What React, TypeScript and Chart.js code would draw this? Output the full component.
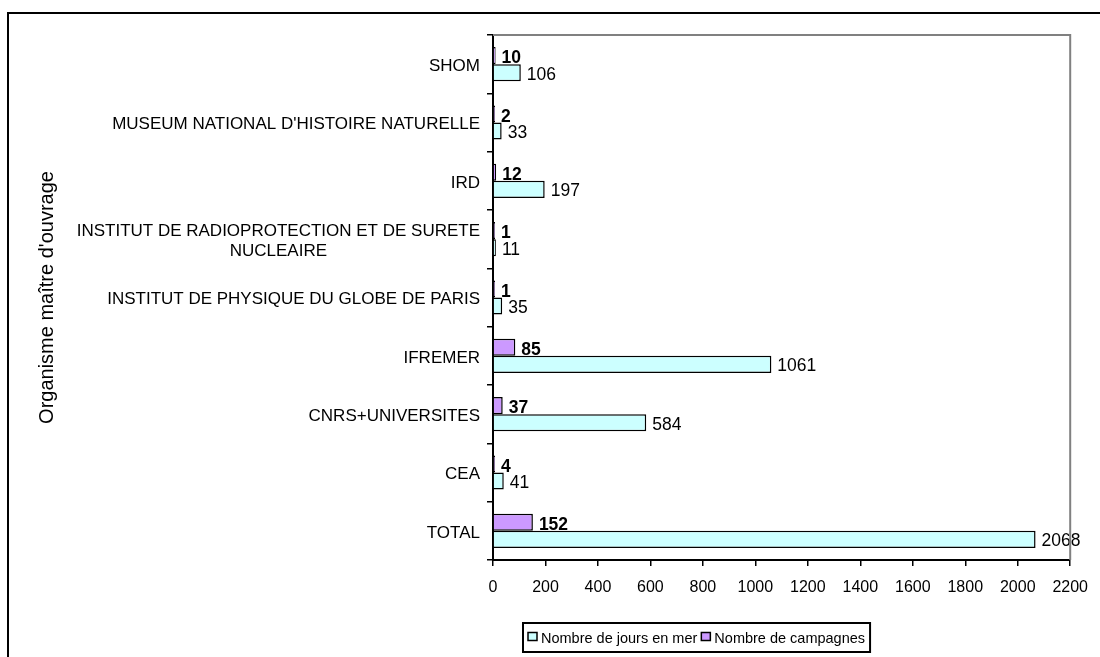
import React, { useEffect, useRef } from "react";
import { Chart, registerables } from "chart.js";

Chart.register(...registerables);

// ---- data ----
const categories: (string | string[])[] = [
  "SHOM",
  "MUSEUM NATIONAL D'HISTOIRE NATURELLE",
  "IRD",
  ["INSTITUT DE RADIOPROTECTION ET DE SURETE", "NUCLEAIRE"],
  "INSTITUT DE PHYSIQUE DU GLOBE DE PARIS",
  "IFREMER",
  "CNRS+UNIVERSITES",
  "CEA",
  "TOTAL",
];
const campagnes = [10, 2, 12, 1, 1, 85, 37, 4, 152];
const joursEnMer = [106, 33, 197, 11, 35, 1061, 584, 41, 2068];
const xMin = 0;
const xMax = 2200;
const xStep = 200;
const labelCampagnes = "Nombre de campagnes";
const labelJours = "Nombre de jours en mer";
const yAxisTitle = "Organisme maître d'ouvrage";

const FONT = '"Liberation Sans", Arial, sans-serif';
const CYAN = "#CCFFFF";
const PURPLE = "#CC99FF";

const framePlugin = {
  id: "frame",
  beforeDraw(chart: any) {
    const { ctx } = chart;
    ctx.save();
    ctx.fillStyle = "#fff";
    ctx.fillRect(0, 0, chart.width, chart.height);
    ctx.strokeStyle = "#000";
    ctx.lineWidth = 2;
    ctx.beginPath();
    ctx.moveTo(8, chart.height);
    ctx.lineTo(8, 13);
    ctx.lineTo(chart.width, 13);
    ctx.stroke();
    ctx.restore();
  },
  afterDraw(chart: any) {
    const { ctx, chartArea } = chart;
    ctx.save();
    ctx.strokeStyle = "#808080";
    ctx.lineWidth = 2;
    ctx.beginPath();
    ctx.moveTo(chartArea.left, chartArea.top);
    ctx.lineTo(chartArea.right, chartArea.top);
    ctx.lineTo(chartArea.right, chartArea.bottom);
    ctx.stroke();
    ctx.restore();
  },
};

const yLabelPlugin = {
  id: "yLabels",
  afterDraw(chart: any) {
    const { ctx } = chart;
    const yScale = chart.scales.y;
    ctx.save();
    ctx.font = `17px ${FONT}`;
    ctx.fillStyle = "#000";
    ctx.textBaseline = "middle";
    ctx.textAlign = "center";
    const right = chart.chartArea.left - 13;
    (chart.data.labels as any[]).forEach((lab, i) => {
      const lines: string[] = Array.isArray(lab) ? lab : [lab];
      const w = Math.max(...lines.map((l) => ctx.measureText(l).width));
      const cx = right - w / 2;
      const yc = yScale.getPixelForTick(i) + 2;
      const lh = 20;
      lines.forEach((l, j) => ctx.fillText(l, cx, yc + (j - (lines.length - 1) / 2) * lh));
    });
    ctx.restore();
  },
};

const dataLabelPlugin = {
  id: "dataLabels",
  beforeDatasetsDraw(chart: any) {
    const { ctx } = chart;
    const meta = chart.getDatasetMeta(0);
    ctx.save();
    ctx.font = `bold 17.5px ${FONT}`;
    ctx.fillStyle = "#000";
    ctx.textBaseline = "middle";
    ctx.textAlign = "left";
    meta.data.forEach((el: any, i: number) => {
      ctx.fillText(String(chart.data.datasets[0].data[i]), el.x + 6, el.y + 3);
    });
    ctx.restore();
  },
  afterDatasetsDraw(chart: any) {
    const { ctx } = chart;
    const meta = chart.getDatasetMeta(1);
    ctx.save();
    ctx.font = `17.5px ${FONT}`;
    ctx.fillStyle = "#000";
    ctx.textBaseline = "middle";
    ctx.textAlign = "left";
    meta.data.forEach((el: any, i: number) => {
      ctx.fillText(String(chart.data.datasets[1].data[i]), el.x + 6, el.y + 2);
    });
    ctx.restore();
  },
};

const legendPlugin = {
  id: "boxLegend",
  afterDraw(chart: any) {
    const { ctx } = chart;
    ctx.save();
    ctx.font = `14.5px ${FONT}`;
    ctx.textBaseline = "middle";
    ctx.textAlign = "left";
    const items = [
      { text: chart.data.datasets[1].label, color: chart.data.datasets[1].backgroundColor },
      { text: chart.data.datasets[0].label, color: chart.data.datasets[0].backgroundColor },
    ];
    const left = 523;
    const top = 623;
    const h = 29;
    const pad = 5;
    const mk = 9;
    const gap = 4;
    const between = 4;
    let w = pad;
    items.forEach((it, i) => {
      w += mk + gap + ctx.measureText(it.text).width + (i < items.length - 1 ? between : 0);
    });
    w += pad;
    ctx.strokeStyle = "#000";
    ctx.lineWidth = 2;
    ctx.strokeRect(left, top, w, h);
    let x = left + pad;
    const cy = top + h / 2;
    items.forEach((it) => {
      ctx.fillStyle = it.color;
      ctx.fillRect(x, cy - 5, mk, 8);
      ctx.lineWidth = 1.5;
      ctx.strokeRect(x, cy - 5, mk, 8);
      x += mk + gap;
      ctx.fillStyle = "#000";
      ctx.fillText(it.text, x, cy + 1);
      x += ctx.measureText(it.text).width + between;
    });
    ctx.restore();
  },
};

export default function App() {
  const ref = useRef<HTMLCanvasElement | null>(null);

  useEffect(() => {
    if (!ref.current) return;
    const chart = new Chart(ref.current, {
      type: "bar",
      data: {
        labels: categories,
        datasets: [
          {
            label: labelCampagnes,
            data: campagnes,
            backgroundColor: PURPLE,
            borderColor: "#000",
            borderWidth: 1.5,
            minBarLength: 2,
            categoryPercentage: 0.585,
            barPercentage: 1,
          },
          {
            label: labelJours,
            data: joursEnMer,
            backgroundColor: CYAN,
            borderColor: "#000",
            borderWidth: 1.5,
            categoryPercentage: 0.585,
            barPercentage: 1,
          },
        ],
      },
      options: {
        indexAxis: "y",
        responsive: false,
        animation: false,
        devicePixelRatio: 1,
        layout: { padding: { left: 0, top: 35, right: 25, bottom: 0 } },
        plugins: {
          legend: { display: false },
          tooltip: { enabled: false },
        },
        scales: {
          x: {
            type: "linear",
            min: xMin,
            max: xMax,
            afterFit: (s: any) => {
              s.height = 97;
            },
            ticks: {
              stepSize: xStep,
              color: "#000",
              font: { family: FONT, size: 16 },
              padding: 12,
              maxRotation: 0,
              callback: (v: any) => String(v),
            },
            grid: {
              drawOnChartArea: false,
              drawTicks: true,
              tickLength: 6,
              color: "#000",
              lineWidth: 1.5,
            },
            border: { color: "#000", width: 2 },
          },
          y: {
            type: "category",
            afterFit: (s: any) => {
              s.width = 493;
            },
            ticks: {
              color: "rgba(0,0,0,0)",
              font: { family: FONT, size: 17 },
            },
            grid: {
              offset: true,
              drawOnChartArea: false,
              drawTicks: true,
              tickLength: 6,
              color: "#000",
              lineWidth: 1.5,
            },
            border: { color: "#000", width: 2 },
            title: {
              display: true,
              text: yAxisTitle,
              color: "#000",
              font: { family: FONT, size: 20 },
              padding: { top: 35, bottom: 0 },
            },
          },
        },
      },
      plugins: [framePlugin, dataLabelPlugin, yLabelPlugin, legendPlugin],
    } as any);
    return () => chart.destroy();
  }, []);

  return (
    <div style={{ position: "fixed", left: 0, top: 0, width: 1100, height: 657, background: "#fff" }}>
      <canvas ref={ref} width={1100} height={657} style={{ width: 1100, height: 657, display: "block" }} />
    </div>
  );
}
